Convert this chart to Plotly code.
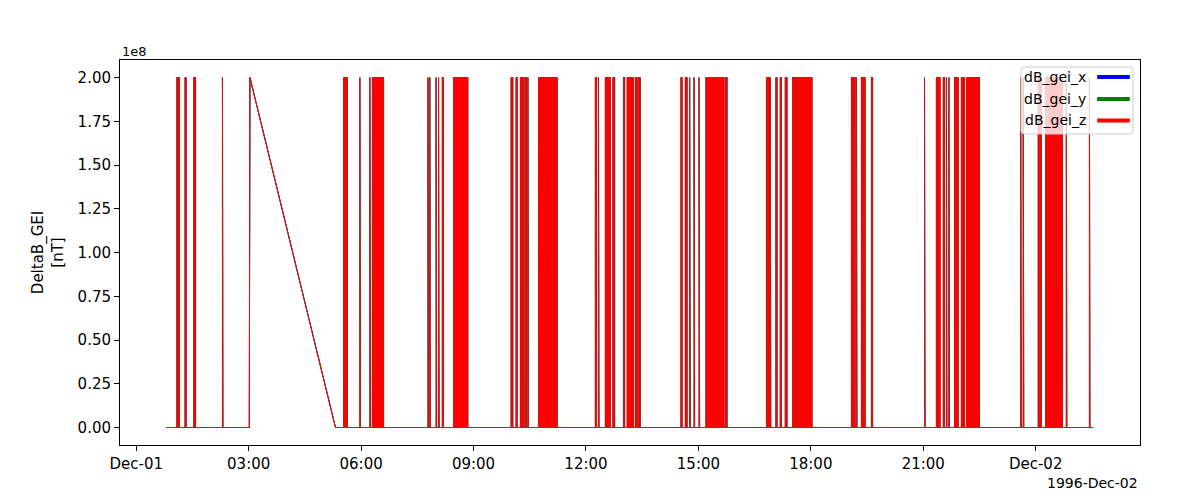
import plotly.graph_objects as go

# ---- data ----
components = ["dB_gei_x", "dB_gei_y", "dB_gei_z"]
colors = ["#0000ff", "#008000", "#ff0000"]
fill_value = 2.0e8

# intervals where the series sits at the fill value (start, end)
spike_start = [
    "1996-12-01 01:05", "1996-12-01 01:18", "1996-12-01 01:32", "1996-12-01 02:18",
    "1996-12-01 05:32", "1996-12-01 05:58", "1996-12-01 06:14", "1996-12-01 06:18",
    "1996-12-01 07:47", "1996-12-01 07:50", "1996-12-01 08:00", "1996-12-01 08:04",
    "1996-12-01 08:10", "1996-12-01 08:28", "1996-12-01 10:00", "1996-12-01 10:08",
    "1996-12-01 10:15", "1996-12-01 10:23", "1996-12-01 10:27", "1996-12-01 10:44",
    "1996-12-01 12:15", "1996-12-01 12:20", "1996-12-01 12:31", "1996-12-01 12:43",
    "1996-12-01 13:00", "1996-12-01 13:06", "1996-12-01 13:19", "1996-12-01 13:23",
    "1996-12-01 14:32", "1996-12-01 14:39", "1996-12-01 14:46", "1996-12-01 14:53",
    "1996-12-01 15:01", "1996-12-01 15:12", "1996-12-01 15:43", "1996-12-01 16:49",
    "1996-12-01 16:55", "1996-12-01 17:04", "1996-12-01 17:11", "1996-12-01 17:19",
    "1996-12-01 17:31", "1996-12-01 17:35", "1996-12-01 19:05", "1996-12-01 19:13",
    "1996-12-01 19:21", "1996-12-01 19:37", "1996-12-01 21:02", "1996-12-01 21:21",
    "1996-12-01 21:32", "1996-12-01 21:37", "1996-12-01 21:41", "1996-12-01 21:50",
    "1996-12-01 22:01", "1996-12-01 22:09", "1996-12-01 23:36", "1996-12-01 23:40",
    "1996-12-02 00:04", "1996-12-02 00:16", "1996-12-02 00:49", "1996-12-02 01:26",
]
spike_end = [
    "1996-12-01 01:09", "1996-12-01 01:20", "1996-12-01 01:35", "1996-12-01 02:19",
    "1996-12-01 05:38", "1996-12-01 05:59", "1996-12-01 06:15", "1996-12-01 06:36",
    "1996-12-01 07:48", "1996-12-01 07:51", "1996-12-01 08:01", "1996-12-01 08:05",
    "1996-12-01 08:12", "1996-12-01 08:51", "1996-12-01 10:03", "1996-12-01 10:10",
    "1996-12-01 10:21", "1996-12-01 10:25", "1996-12-01 10:28", "1996-12-01 11:14",
    "1996-12-01 12:17", "1996-12-01 12:21", "1996-12-01 12:39", "1996-12-01 12:46",
    "1996-12-01 13:02", "1996-12-01 13:16", "1996-12-01 13:21", "1996-12-01 13:27",
    "1996-12-01 14:34", "1996-12-01 14:42", "1996-12-01 14:47", "1996-12-01 14:54",
    "1996-12-01 15:02", "1996-12-01 15:41", "1996-12-01 15:46", "1996-12-01 16:54",
    "1996-12-01 16:56", "1996-12-01 17:06", "1996-12-01 17:13", "1996-12-01 17:22",
    "1996-12-01 17:34", "1996-12-01 18:02", "1996-12-01 19:11", "1996-12-01 19:14",
    "1996-12-01 19:27", "1996-12-01 19:39", "1996-12-01 21:03", "1996-12-01 21:27",
    "1996-12-01 21:34", "1996-12-01 21:38", "1996-12-01 21:42", "1996-12-01 21:56",
    "1996-12-01 22:06", "1996-12-01 22:30", "1996-12-01 23:37", "1996-12-01 23:41",
    "1996-12-02 00:09", "1996-12-02 00:43", "1996-12-02 00:50", "1996-12-02 01:27",
]

# baseline samples (including the data gap drawn as a diagonal)
base_time = ["1996-12-01 00:48", "1996-12-01 03:01", "1996-12-01 03:02",
             "1996-12-01 05:19", "1996-12-02 01:32"]
base_value = [0.0, 0.0, 2.0e8, 0.0, 0.0]

x_tick_vals = ["1996-12-01 00:00", "1996-12-01 03:00", "1996-12-01 06:00",
               "1996-12-01 09:00", "1996-12-01 12:00", "1996-12-01 15:00",
               "1996-12-01 18:00", "1996-12-01 21:00", "1996-12-02 00:00"]
x_tick_text = ["Dec-01", "03:00", "06:00", "09:00", "12:00", "15:00",
               "18:00", "21:00", "Dec-02"]
y_tick_vals = [0, 0.25e8, 0.5e8, 0.75e8, 1.0e8, 1.25e8, 1.5e8, 1.75e8, 2.0e8]
y_tick_text = ["0.00", "0.25", "0.50", "0.75", "1.00", "1.25", "1.50", "1.75", "2.00"]

# ---- build polygons for the fill-value intervals ----
px, py = [], []
for s, e in zip(spike_start, spike_end):
    px += [s, s, e, e, None]
    py += [0, fill_value, fill_value, 0, None]

FONT = "DejaVu Sans"
fig = go.Figure()
for name, col in zip(components, colors):
    fig.add_trace(go.Scatter(x=px, y=py, mode="lines", fill="toself",
                             fillcolor=col, line=dict(color=col, width=0.6),
                             name=name, showlegend=False, hoverinfo="skip"))
    fig.add_trace(go.Scatter(x=base_time, y=base_value, mode="lines",
                             line=dict(color=col, width=1), name=name,
                             showlegend=False))

fig.update_layout(
    width=1200, height=500,
    margin=dict(l=112, r=68, t=52, b=63),
    paper_bgcolor="white", plot_bgcolor="white",
    font=dict(family=FONT, size=15, color="black"),
    showlegend=False,
)
fig.update_xaxes(
    type="date",
    range=["1996-11-30 23:34", "1996-12-02 02:47"],
    tickvals=x_tick_vals, ticktext=x_tick_text,
    ticks="outside", ticklen=5, tickwidth=1, tickcolor="black",
    showline=True, linecolor="black", linewidth=1, mirror=True,
    showgrid=False, zeroline=False,
    tickfont=dict(size=15),
)
fig.update_yaxes(
    range=[-1.0e7, 2.1e8],
    tickvals=y_tick_vals, ticktext=y_tick_text,
    ticks="outside", ticklen=5, tickwidth=1, tickcolor="black",
    showline=True, linecolor="black", linewidth=1, mirror=True,
    showgrid=False, zeroline=False,
    tickfont=dict(size=15),
    title=dict(text="DeltaB_GEI<br>[nT]", font=dict(size=15), standoff=10),
)

# offset texts
fig.add_annotation(text="1e8", xref="paper", yref="paper", x=0.0, y=1.023,
                   xanchor="left", yanchor="middle", showarrow=False,
                   font=dict(size=13))
fig.add_annotation(text="1996-Dec-02", xref="paper", yref="paper", x=1.0, y=-0.099,
                   xanchor="right", yanchor="middle", showarrow=False,
                   font=dict(size=14))

# legend box (matplotlib style: label then line), rounded corners
x0, x1, y0, y1 = 0.8833, 0.9931, 0.8078, 0.9818
rx, ry = 0.0035, 0.0093
path = (f"M {x0+rx},{y0} L {x1-rx},{y0} Q {x1},{y0} {x1},{y0+ry} "
        f"L {x1},{y1-ry} Q {x1},{y1} {x1-rx},{y1} L {x0+rx},{y1} "
        f"Q {x0},{y1} {x0},{y1-ry} L {x0},{y0+ry} Q {x0},{y0} {x0+rx},{y0} Z")
fig.add_shape(type="path", path=path, xref="paper", yref="paper",
              fillcolor="rgba(255,255,255,0.8)",
              line=dict(color="#cccccc", width=1), layer="above")
leg_y = [0.956, 0.899, 0.843]
for name, col, yy in zip(components, colors, leg_y):
    fig.add_annotation(text=name, xref="paper", yref="paper", x=0.949, y=yy,
                       xanchor="right", yanchor="middle", showarrow=False,
                       font=dict(size=14))
    fig.add_shape(type="line", xref="paper", yref="paper",
                  x0=0.958, x1=0.990, y0=yy, y1=yy,
                  line=dict(color=col, width=4), layer="above")

fig.write_html("out.html")
